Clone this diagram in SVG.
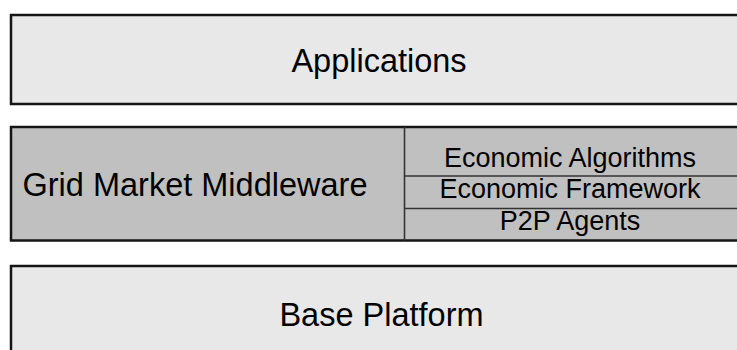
<svg xmlns="http://www.w3.org/2000/svg" width="737" height="350" viewBox="0 0 737 350">
<style>
.layer{stroke:#151515;stroke-width:2.5}
.light{fill:#e8e8e8}
.dark{fill:#c0c0c0}
.div{stroke:#333;stroke-width:1.6;fill:none}
.big{font-family:"Liberation Sans",Arial,sans-serif;font-size:32.5px;fill:#000}
.small{font-family:"Liberation Sans",Arial,sans-serif;font-size:27px;fill:#000;text-anchor:middle}
</style>
<rect width="737" height="350" fill="#fff"/>
<g id="applications">
<rect class="layer light" x="11" y="15" width="740" height="89"/>
<text class="big" x="379" y="72" text-anchor="middle">Applications</text>
</g>
<g id="grid-market-middleware">
<rect class="layer dark" x="11" y="127" width="740" height="113.5"/>
<text class="big" x="195" y="196" text-anchor="middle">Grid Market Middleware</text>
</g>
<g id="economic-algorithms">
<text class="small" x="570" y="167">Economic Algorithms</text>
</g>
<g id="economic-framework">
<text class="small" x="570" y="198">Economic Framework</text>
</g>
<g id="p2p-agents">
<text class="small" x="570" y="230">P2P Agents</text>
</g>
<g id="dividers">
<line class="div" x1="404.5" y1="127" x2="404.5" y2="240.5"/>
<line class="div" x1="404.5" y1="176" x2="737" y2="176"/>
<line class="div" x1="404.5" y1="208.5" x2="737" y2="208.5"/>
</g>
<g id="base-platform">
<rect class="layer light" x="11" y="266" width="740" height="100"/>
<text class="big" x="381.5" y="326" text-anchor="middle">Base Platform</text>
</g>
</svg>
